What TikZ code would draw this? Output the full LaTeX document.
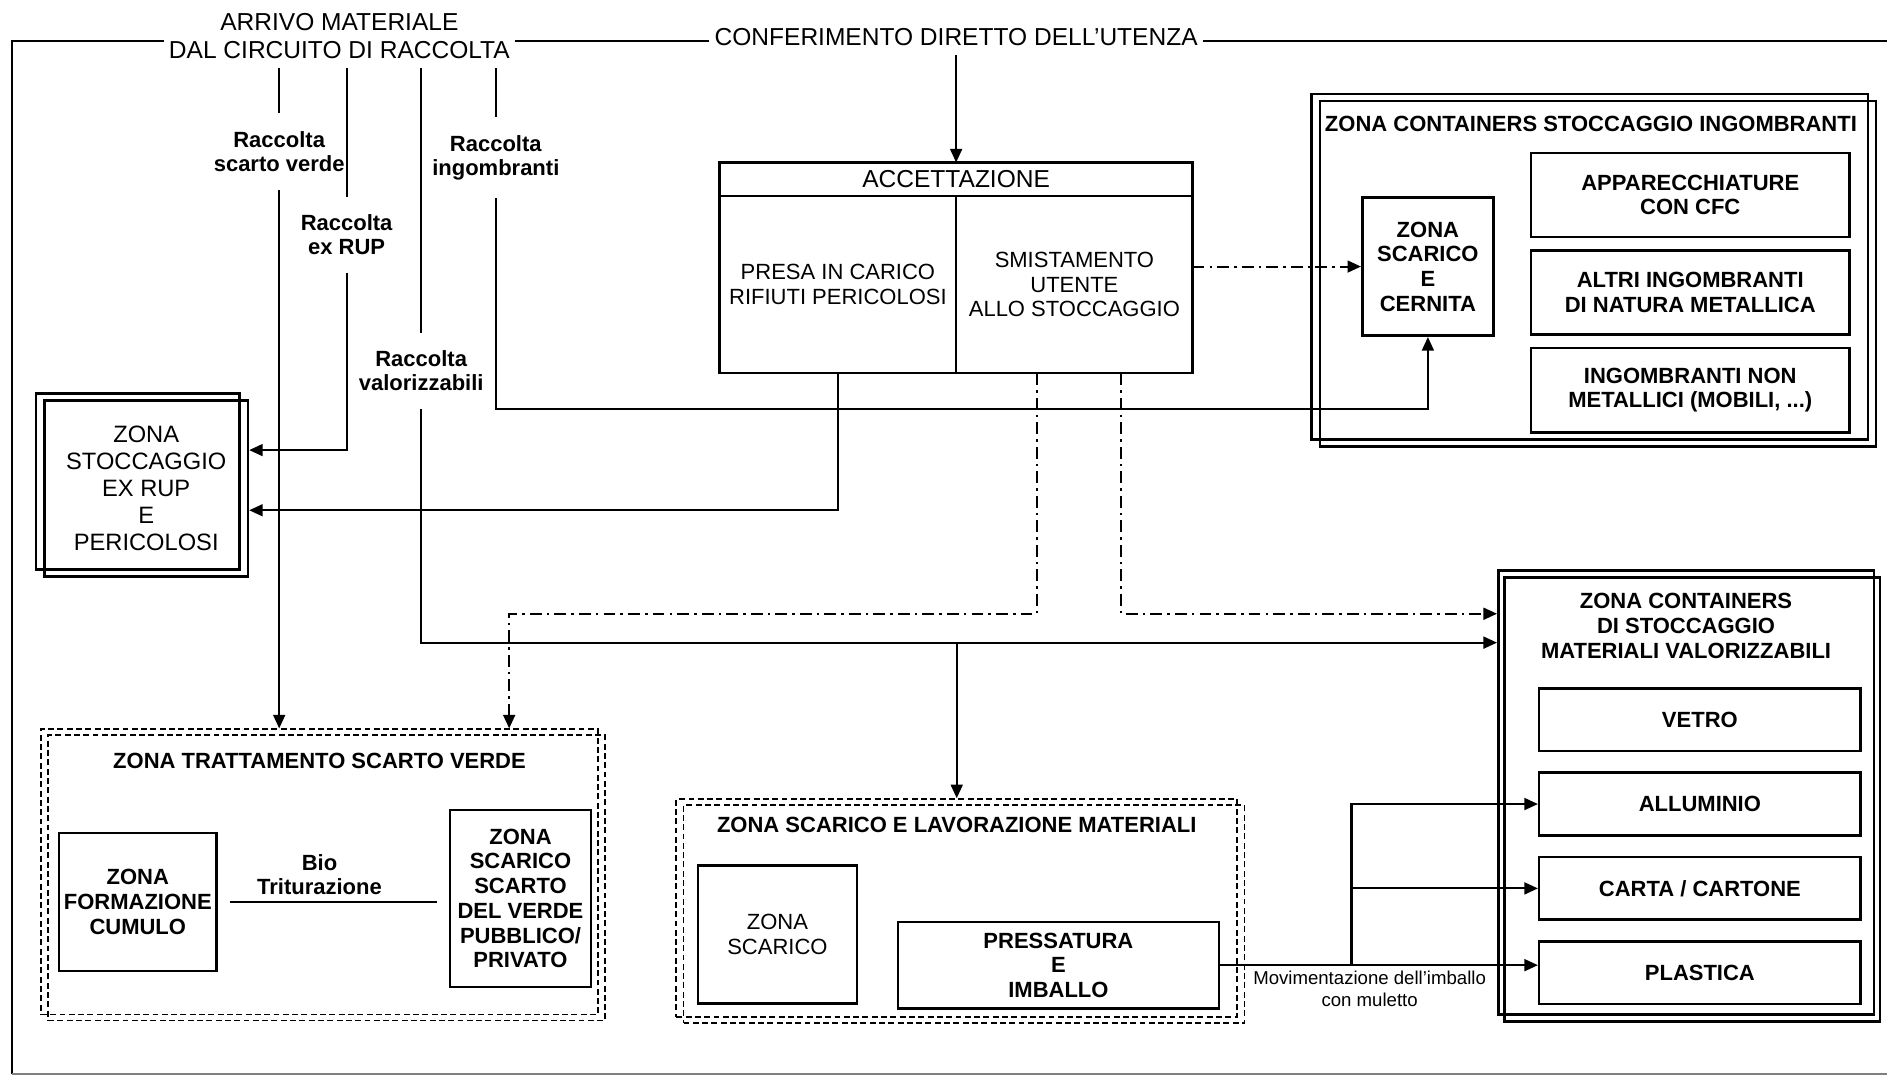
\documentclass[tikz,border=0pt]{standalone}
\usepackage{fontspec}
\setmainfont{Liberation Sans}
\usetikzlibrary{arrows.meta,positioning,shadows}
\tikzset{
  head/.style={align=center, inner xsep=2.5pt, inner ysep=5pt, font=\fontsize{14.5}{16.7}\selectfont},
  feed/.style={align=center, inner xsep=1pt, inner ysep=3.5mm, font=\fontsize{13}{14.4}\selectfont\bfseries},
  note/.style={align=center, inner sep=1.2mm, font=\fontsize{13}{14.4}\selectfont\bfseries},
  small note/.style={align=center, inner sep=1mm, font=\fontsize{11}{12.8}\selectfont},
  box/.style={draw, rectangle, line width=1.5pt, align=center, inner xsep=1pt, font=\fontsize{13}{14.6}\selectfont\bfseries},
  plain box/.style={box, font=\fontsize{13}{14.6}\selectfont},
  bay/.style={box, minimum width=66.25mm, minimum height=17.5mm},
  bin/.style={box, minimum width=66.75mm, minimum height=13mm},
  zone/.style={draw, rectangle, line width=1.5pt},
  dashed zone/.style={draw, rectangle, line width=1pt, dash pattern=on 3.5pt off 2pt},
  twin/.style 2 args={copy shadow={shadow xshift=#1, shadow yshift=#2, draw=black, fill=none, line width=1.5pt}},
  dashed twin/.style 2 args={copy shadow={shadow xshift=#1, shadow yshift=#2, draw=black, fill=none, line width=1pt, dash pattern=on 3.5pt off 2pt}},
  zone title/.style={align=center, inner sep=0pt, font=\fontsize{13}{14.9}\selectfont\bfseries},
  dash dot line/.style={dash pattern=on 7pt off 3pt on 1.5pt off 3pt}
}

\begin{document}
\begin{tikzpicture}[x=0.25mm, y=-0.25mm, line width=1.25pt, >={Triangle[length=8pt,width=7pt]}]
   \useasboundingbox (0,0) rectangle (1568,894);
   \node[head] (1) at (282,30) {ARRIVO MATERIALE\\DAL CIRCUITO DI RACCOLTA};
   \node[head] (2) at (794.5,30.5) {CONFERIMENTO DIRETTO DELL’UTENZA};
   \coordinate (top) at (10,34);
   \draw (1.west |- top) -- (top) -- (10,892.5);
   \draw (1.east |- top) -- (2.west |- top);
   \draw (2.east |- top) -- (1568,34);
   \draw[gray] (10,892.5) -- (1568,892.5);

   \node[feed] (3) at (232,126) {Raccolta\\scarto verde};
   \node[feed] (4) at (288,195) {Raccolta\\ex RUP};
   \node[feed] (5) at (350,308) {Raccolta\\valorizzabili};
   \node[feed] (6) at (412,131) {Raccolta\\ingombranti};

   \node[plain box, outer sep=0pt, minimum width=98.25mm, minimum height=7mm, font=\fontsize{14.5}{16}\selectfont] (7) at (794.5,149) {ACCETTAZIONE};
   \node[plain box, outer sep=0pt, minimum width=49.125mm, minimum height=36.75mm] (8) [below right=0pt and 0pt of 7.south west] {PRESA IN CARICO\\RIFIUTI PERICOLOSI};
   \node[plain box, outer sep=0pt, minimum width=49.125mm, minimum height=36.75mm] (9) [right=0pt of 8] {SMISTAMENTO\\UTENTE\\ALLO STOCCAGGIO};

   \node[plain box, twin={-1.75mm}{1.5mm}, minimum width=42.25mm, minimum height=36.5mm, font=\fontsize{14}{16}\selectfont] (10) at (121.5,406) {ZONA\\STOCCAGGIO\\EX RUP\\E\\PERICOLOSI};

   \node[zone, twin={-1.75mm}{1.5mm}, minimum width=115.5mm, minimum height=71.75mm] (11) at (1328,227.5) {};
   \node[zone title] (12) [below=3.1mm of 11.north, xshift=-1.5mm] {ZONA CONTAINERS STOCCAGGIO INGOMBRANTI};
   \node[box, minimum width=27.25mm, minimum height=28.75mm] (13) at (1186.5,221.5) {ZONA\\SCARICO\\E\\CERNITA};
   \node[bay] (14) at (1404.5,162) {APPARECCHIATURE\\CON CFC};
   \node[bay] (15) [below=2.25mm of 14] {ALTRI INGOMBRANTI\\DI NATURA METALLICA};
   \node[bay] (16) [below=2.25mm of 15] {INGOMBRANTI NON\\METALLICI (MOBILI, ...)};

   \node[zone, twin={1.25mm}{-1.5mm}, minimum width=78mm, minimum height=92.25mm] (17) at (1401,658.5) {};
   \node[zone title] (18) [below=4.75mm of 17.north] {ZONA CONTAINERS\\DI STOCCAGGIO\\MATERIALI VALORIZZABILI};
   \node[bin] (19) at (1412.5,598) {VETRO};
   \node[bin] (20) [below=4mm of 19] {ALLUMINIO};
   \node[bin] (21) [below=4mm of 20] {CARTA / CARTONE};
   \node[bin] (22) [below=4mm of 21] {PLASTICA};

   \node[dashed zone, dashed twin={1.5mm}{-1.25mm}, minimum width=115.75mm, minimum height=59.25mm] (23) at (265.5,724.5) {};
   \node[zone title] (24) [below=4.9mm of 23.north] {ZONA TRATTAMENTO SCARTO VERDE};
   \node[box, minimum width=32.75mm, minimum height=28.75mm] (25) at (114.5,749.5) {ZONA\\FORMAZIONE\\CUMULO};
   \node[box, minimum width=29.25mm, minimum height=36.75mm] (26) at (432.5,746.5) {ZONA\\SCARICO\\SCARTO\\DEL VERDE\\PUBBLICO/\\PRIVATO};

   \node[dashed zone, dashed twin={1.5mm}{-1.25mm}, minimum width=116.5mm, minimum height=45.25mm] (27) at (795,754.5) {};
   \node[zone title] (28) [below=3.75mm of 27.north] {ZONA SCARICO E LAVORAZIONE MATERIALI};
   \node[plain box, minimum width=33mm, minimum height=28.75mm] (29) at (646,776.5) {ZONA\\SCARICO};
   \node[box, minimum width=66.75mm, minimum height=18mm] (30) at (879.5,802) {PRESSATURA\\E\\IMBALLO};

   \coordinate (y1) at (0,340);
   \coordinate (y2) at (0,510);
   \coordinate (y3) at (0,534);
   \coordinate (k) at (1123,0);
   \coordinate (s1) at ([xshift=-7.75mm]9.south);
   \coordinate (s2) at ([xshift=9.75mm]9.south);

    \path[->] (2) edge (7);
    \draw (3 |- 1.south) -- (3);
    \draw (4 |- 1.south) -- (4);
    \draw (5 |- 1.south) -- (5);
    \draw (6 |- 1.south) -- (6);
    \draw[->] (3) -- (3 |- 23.north);
    \draw[->] (4) |- ([yshift=8mm]10.east);
    \draw[->] (8) |- ([yshift=-4.5mm]10.east);
    \draw[->] (6) -- (6 |- y1) -| (13.south);
    \draw[->, dash dot line] (9.east |- 13.west) -- (13.west);
    \draw[->, dash dot line] (s1) -- (s1 |- y2) -| ([xshift=39.4mm]23.north);
    \draw[->, dash dot line] (s2) |- ([yshift=37.125mm]17.west);
    \draw[->] (5) |- ([yshift=31.125mm]17.west);
    \draw[->] (27.north |- y3) -- (27.north);
    \draw[shorten <=2.5mm, shorten >=2.5mm] (25.east) -- (25.east -| 26.west) node[note, above, pos=0.44] {Bio\\Triturazione};
    \draw[->] (30.east) -- (30.east -| 22.west) node[small note, below, pos=0.47] {Movimentazione dell’imballo\\con muletto};
    \draw[->] (30.east -| k) |- (20.west);
    \draw[->] (k |- 21.west) -- (21.west);
\end{tikzpicture}
\end{document}
